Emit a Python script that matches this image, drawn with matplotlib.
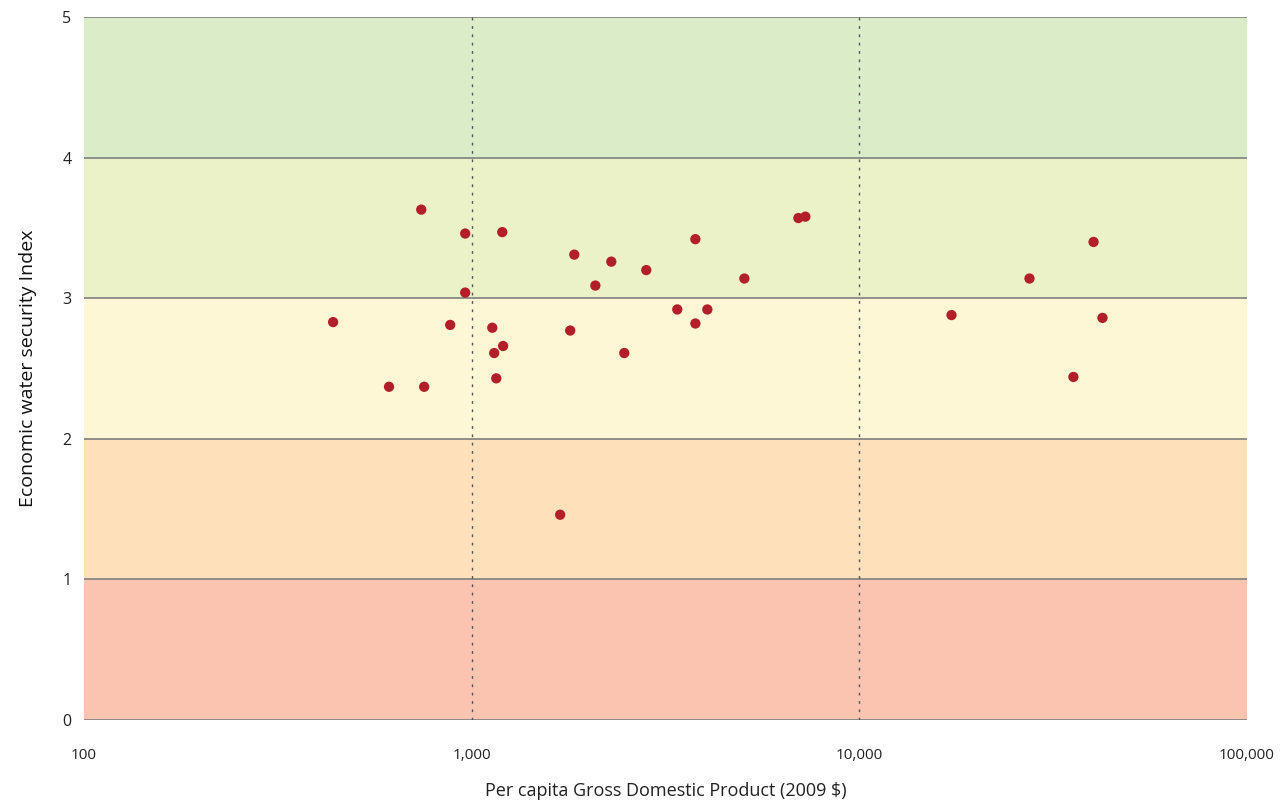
import matplotlib
matplotlib.use("Agg", force=True)
import matplotlib.pyplot as plt
from matplotlib.ticker import FixedLocator, NullLocator

# per capita GDP (2009 $) and economic water security index
gdp = [439, 612, 741, 754, 880, 962, 962, 1130, 1143, 1157, 1199, 1205,
       1691, 1795, 1839, 2084, 2291, 2475, 2820, 3390, 3775, 3775, 4053,
       5050, 6960, 7254, 17280, 27460, 35650, 40180, 42370]
index = [2.83, 2.37, 3.63, 2.37, 2.81, 3.46, 3.04, 2.79, 2.61, 2.43, 3.47, 2.66,
         1.46, 2.77, 3.31, 3.09, 3.26, 2.61, 3.20, 2.92, 3.42, 2.82, 2.92,
         3.14, 3.57, 3.58, 2.88, 3.14, 2.44, 3.40, 2.86]

band_edges = [0, 1, 2, 3, 4, 5]
band_colors = ["#fbc4b0", "#fee0bb", "#fef7d6", "#ecf2c8", "#dbecc9"]

x_ticks = [100, 1000, 10000, 100000]
x_tick_labels = ["100", "1,000", "10,000", "100,000"]
y_ticks = [0, 1, 2, 3, 4, 5]

plt.rcParams["font.family"] = ["Open Sans", "DejaVu Sans"]

fig = plt.figure(figsize=(12.83, 8), dpi=100)
ax = fig.add_axes([0.0655, 0.1, 0.9065, 0.87875])
ax.set_xscale("log")
ax.set_xlim(100, 100000)
ax.set_ylim(0, 5)

for lo, hi, c in zip(band_edges[:-1], band_edges[1:], band_colors):
    ax.axhspan(lo, hi, color=c, lw=0, zorder=0)
for y in y_ticks:
    ax.axhline(y, color="#7f7f7f", lw=1.2, zorder=1)
for x in [1000, 10000]:
    ax.axvline(x, color="#555555", lw=1, ls=(0, (2, 4)), zorder=1)

ax.scatter(gdp, index, s=55, color="#b21f28", edgecolors="none", zorder=3)

for s in ax.spines.values():
    s.set_visible(False)
ax.xaxis.set_major_locator(FixedLocator(x_ticks))
ax.xaxis.set_minor_locator(NullLocator())
ax.set_xticklabels(x_tick_labels)
ax.set_yticks(y_ticks)
ax.tick_params(axis="x", length=0, pad=20, labelsize=11, colors="#222222")
ax.tick_params(axis="y", length=0, pad=9, labelsize=11.5, colors="#222222")

ax.set_xlabel("Per capita Gross Domestic Product (2009 $)", fontsize=13,
              labelpad=14, color="#222222")
ax.set_ylabel("Economic water security Index", fontsize=14, labelpad=18,
              color="#111111")

fig.savefig("out.png", dpi=100)
